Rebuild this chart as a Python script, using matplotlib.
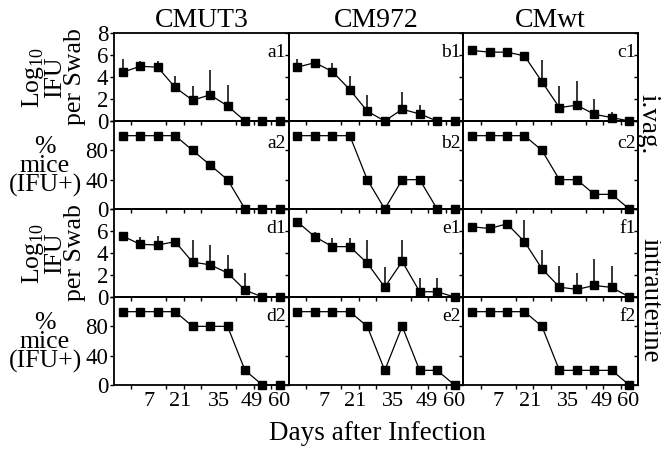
import matplotlib
matplotlib.use("Agg")
import matplotlib.pyplot as plt
import numpy as np

plt.rcParams['font.family'] = ['Liberation Serif', 'DejaVu Serif']
plt.rcParams['mathtext.fontset'] = 'custom'
plt.rcParams['mathtext.rm'] = 'Liberation Serif'

# strains (columns) and day labels on the shared x axis
strains = ['CMUT3', 'CM972', 'CMwt']
day_labels = ['7', '21', '35', '49', '60']
n_points = 10

# log10 IFU per swab, i.vag. (row 1) -- means and upper error
ivag_log = [
    [4.43, 4.98, 4.89, 3.05, 1.89, 2.38, 1.37, 0, 0, 0],
    [4.90, 5.30, 4.50, 2.85, 0.89, 0, 1.07, 0.64, 0, 0],
    [6.41, 6.26, 6.26, 5.92, 3.57, 1.22, 1.44, 0.61, 0.31, 0],
]
ivag_err = [
    [1.22, 0.52, 0.61, 1.07, 1.31, 2.29, 1.90, 0, 0, 0],
    [0.70, 0.15, 0.80, 1.20, 1.47, 0, 1.53, 0.83, 0, 0],
    [0, 0, 0, 0, 1.99, 1.98, 2.22, 1.37, 0.54, 0],
]
# % mice IFU+, i.vag. (row 2)
ivag_pct = [
    [100, 100, 100, 100, 80, 60, 40, 0, 0, 0],
    [100, 100, 100, 100, 40, 0, 40, 40, 0, 0],
    [100, 100, 100, 100, 80, 40, 40, 20, 20, 0],
]
# log10 IFU per swab, intrauterine (row 3)
iu_log = [
    [5.54, 4.79, 4.73, 5.03, 3.17, 2.93, 2.19, 0.63, 0, 0],
    [6.83, 5.48, 4.58, 4.58, 3.08, 0.90, 3.23, 0.48, 0.48, 0],
    [6.38, 6.23, 6.65, 5.03, 2.57, 0.90, 0.69, 1.05, 0.87, 0],
]
iu_err = [
    [0.39, 0.63, 0.81, 0, 2.01, 1.80, 1.64, 1.56, 0, 0],
    [0, 0.45, 0.75, 0.75, 2.10, 1.80, 1.95, 1.26, 1.26, 0],
    [0, 0.45, 0, 2.01, 1.71, 1.94, 1.50, 2.42, 1.91, 0],
]
# % mice IFU+, intrauterine (row 4)
iu_pct = [
    [100, 100, 100, 100, 80, 80, 80, 20, 0, 0],
    [100, 100, 100, 100, 80, 20, 80, 20, 20, 0],
    [100, 100, 100, 100, 80, 20, 20, 20, 20, 0],
]

panel_tags = [['a1', 'b1', 'c1'], ['a2', 'b2', 'c2'],
              ['d1', 'e1', 'f1'], ['d2', 'e2', 'f2']]


def draw_panel(ax, vals, err=None):
    x = np.arange(n_points) + 0.5
    vals = np.array(vals, dtype=float)
    if err is not None:
        err = np.array(err, dtype=float)
        m = err > 0
        ax.errorbar(x[m], vals[m], yerr=[np.zeros(m.sum()), err[m]], fmt='none',
                    ecolor='black', elinewidth=1.1, capsize=0, zorder=2)
    ax.plot(x, vals, '-', color='black', lw=0.9, marker='s', ms=5.2,
            clip_on=False, zorder=3)


fig = plt.figure(figsize=(6.61, 4.49), dpi=100)
axes = fig.subplots(4, 3)
fig.subplots_adjust(left=0.1725, right=0.9652, top=0.9265, bottom=0.1425,
                    hspace=0, wspace=0)

rows = [(ivag_log, ivag_err), (ivag_pct, None), (iu_log, iu_err), (iu_pct, None)]
for r, (data, errs) in enumerate(rows):
    for c in range(3):
        ax = axes[r, c]
        ax.patch.set_facecolor('none')
        draw_panel(ax, data[c], errs[c] if errs is not None else None)
        ax.set_xlim(0, n_points)
        for s in ax.spines.values():
            s.set_linewidth(1.3)
        if r in (0, 2):
            ax.set_ylim(0, 8)
            if r == 0:
                ax.set_yticks([0, 2, 4, 6, 8])
            else:
                ax.set_yticks([0, 2, 4, 6, 8], ['0', '2', '4', '6', ''])
        else:
            ax.set_ylim(0, 120)
            ax.set_yticks([0, 40, 80, 120], ['0', '40', '80', ''])
        ax.tick_params(axis='y', direction='out', length=3, width=1,
                       labelsize=16.5, pad=1)
        if c > 0:
            ax.tick_params(axis='y', labelleft=False)
        if c == 2:
            sec = ax.secondary_yaxis('right')
            sec.set_yticks(ax.get_yticks())
            sec.tick_params(direction='in', length=3, width=1, labelright=False)
            sec.spines['right'].set_linewidth(1.3)
        # x ticks: minor marks between points, labels placed as in the original
        ax.set_xticks(np.arange(1, n_points), minor=True)
        ax.set_xticks([2, 3.8, 6, 7.9, 9.45], day_labels)
        ax.tick_params(axis='x', which='major', length=0, labelsize=16, pad=5)
        ax.tick_params(axis='x', which='minor', direction='out', length=3, width=1)
        if r < 3:
            ax.tick_params(axis='x', labelbottom=False)
        ax.text(0.985, 0.78 if r != 1 else 0.74, panel_tags[r][c],
                transform=ax.transAxes, ha='right', va='center', fontsize=14)

for c, name in enumerate(strains):
    axes[0, c].set_title(name, fontsize=20, pad=3)

# row labels on the left
for r in (0, 2):
    ax = axes[r, 0]
    ax.text(-0.35, 0.5, 'Log$_{10}$\nIFU\nper Swab', transform=ax.transAxes,
            rotation=90, ha='center', va='center', multialignment='center',
            fontsize=18.5, linespacing=0.9)
for r in (1, 3):
    ax = axes[r, 0]
    ax.text(-0.395, 0.48, '%\nmice\n(IFU+)', transform=ax.transAxes,
            ha='center', va='center', multialignment='center',
            fontsize=18.5, linespacing=0.82)

# route labels on the right
fig.text(648 / 661, 1 - 124 / 449, 'i.vag.', rotation=270, ha='center',
         va='center', fontsize=19.5)
fig.text(650 / 661, 1 - 300 / 449, 'intrauterine', rotation=270, ha='center',
         va='center', fontsize=19.5)

fig.text(377 / 661, 1 - 433 / 449, 'Days after Infection', ha='center',
         va='center', fontsize=19.5)

fig.savefig('out.png', dpi=100)
